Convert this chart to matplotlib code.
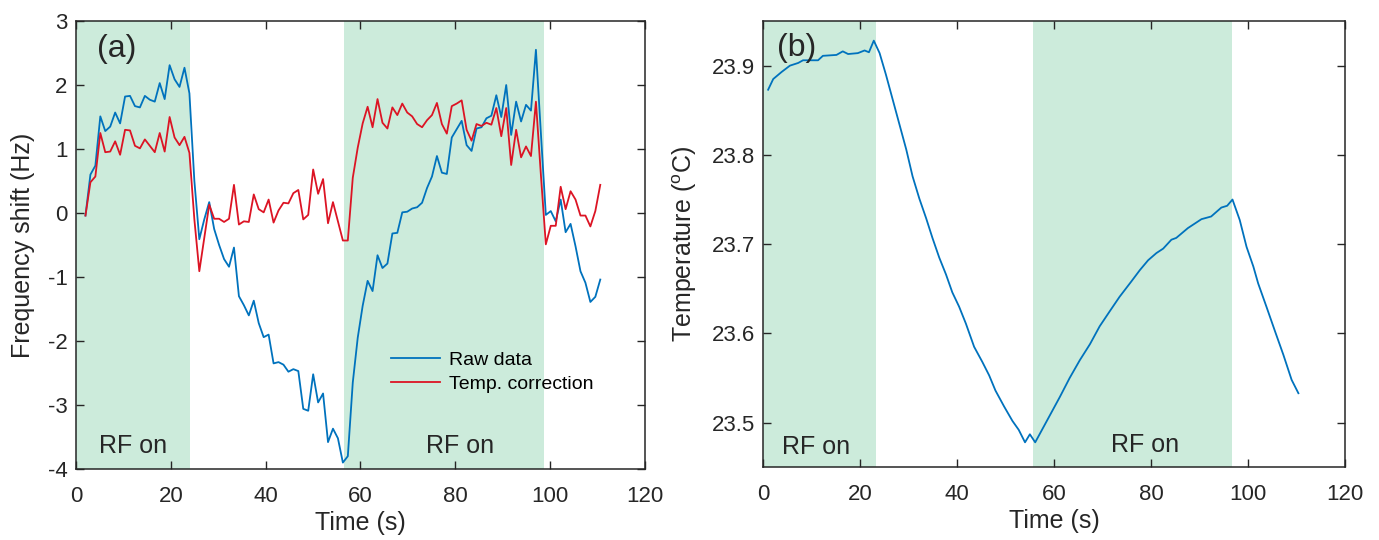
import numpy as np
import matplotlib
matplotlib.use('Agg')
import matplotlib.pyplot as plt

plt.rcParams['font.family'] = ['Liberation Sans', 'DejaVu Sans']
plt.rcParams['mathtext.fontset'] = 'custom'
plt.rcParams['mathtext.rm'] = 'Liberation Sans'
plt.rcParams['axes.unicode_minus'] = False

# (a) fréquence : échantillonnage régulier, 105 points
t_a = 2 + 1.044 * np.arange(105)

raw = [-0.04, 0.60, 0.74, 1.51, 1.28, 1.35, 1.57, 1.40, 1.82, 1.83,
       1.67, 1.65, 1.83, 1.77, 1.74, 2.03, 1.78, 2.31, 2.09, 1.97,
       2.27, 1.87, 0.50, -0.41, -0.10, 0.17, -0.25, -0.50, -0.72, -0.84,
       -0.54, -1.30, -1.44, -1.60, -1.37, -1.72, -1.94, -1.90, -2.35, -2.33,
       -2.37, -2.48, -2.44, -2.47, -3.06, -3.09, -2.52, -2.96, -2.82, -3.58,
       -3.37, -3.52, -3.90, -3.80, -2.65, -1.95, -1.45, -1.06, -1.22, -0.66,
       -0.86, -0.79, -0.32, -0.31, 0.01, 0.02, 0.07, 0.09, 0.16, 0.39,
       0.57, 0.89, 0.63, 0.61, 1.18, 1.31, 1.44, 1.06, 0.97, 1.32,
       1.34, 1.48, 1.52, 1.84, 1.50, 2.00, 1.22, 1.74, 1.43, 1.69,
       1.60, 2.55, 1.25, -0.03, 0.03, -0.13, 0.21, -0.30, -0.17, -0.52,
       -0.91, -1.09, -1.39, -1.31, -1.04]

corr = [-0.04, 0.48, 0.57, 1.25, 0.95, 0.96, 1.12, 0.91, 1.30, 1.29,
        1.05, 1.01, 1.15, 1.05, 0.95, 1.25, 0.96, 1.50, 1.18, 1.06,
        1.19, 0.94, -0.10, -0.91, -0.39, 0.13, -0.09, -0.09, -0.14, -0.09,
        0.44, -0.18, -0.13, -0.14, 0.29, 0.06, 0.01, 0.21, -0.15, 0.04,
        0.16, 0.15, 0.31, 0.36, -0.10, -0.03, 0.68, 0.30, 0.53, -0.16,
        0.17, -0.13, -0.43, -0.43, 0.55, 1.02, 1.40, 1.66, 1.34, 1.78,
        1.41, 1.32, 1.65, 1.53, 1.71, 1.57, 1.51, 1.39, 1.34, 1.45,
        1.53, 1.72, 1.39, 1.24, 1.67, 1.71, 1.76, 1.30, 1.13, 1.39,
        1.36, 1.41, 1.38, 1.64, 1.20, 1.64, 0.75, 1.30, 0.87, 1.04,
        0.89, 1.74, 0.60, -0.49, -0.20, -0.20, 0.41, 0.06, 0.34, 0.21,
        -0.04, -0.04, -0.21, 0.03, 0.44]

# (b) température
t_b = [1.0, 2.05, 3.8, 5.5, 7.2, 8.2, 9.6, 11.3, 12.3, 15.1,
       16.4, 17.5, 19.5, 20.9, 21.8, 22.8, 24.0, 25.3, 26.7, 28.1,
       29.5, 30.8, 32.2, 33.6, 34.9, 36.3, 37.7, 39.0, 40.4, 41.8,
       43.5, 45.2, 46.6, 47.9, 49.7, 51.4, 52.7, 54.0, 55.0, 56.1,
       57.6, 59.5, 61.2, 63.2, 65.3, 67.4, 69.4, 71.5, 73.5, 75.9,
       77.7, 79.4, 81.1, 82.5, 84.2, 85.2, 87.6, 90.4, 92.4, 94.5,
       95.7, 96.8, 98.3, 99.7, 101.1, 102.1, 103.8, 105.6, 107.3, 109.0, 110.4]
temp = [23.873, 23.885, 23.893, 23.900, 23.903, 23.906, 23.906, 23.906, 23.911, 23.912,
        23.916, 23.913, 23.914, 23.917, 23.915, 23.928, 23.914, 23.890, 23.862, 23.834,
        23.806, 23.776, 23.751, 23.729, 23.707, 23.685, 23.666, 23.646, 23.630, 23.611,
        23.585, 23.568, 23.553, 23.536, 23.518, 23.502, 23.492, 23.478, 23.487, 23.478,
        23.493, 23.512, 23.529, 23.550, 23.570, 23.588, 23.608, 23.625, 23.641, 23.658,
        23.671, 23.682, 23.690, 23.695, 23.705, 23.707, 23.718, 23.728, 23.731, 23.741,
        23.743, 23.750, 23.727, 23.697, 23.675, 23.656, 23.630, 23.602, 23.576, 23.548, 23.533]

# zones RF on
rf_a = [(0, 24.0), (56.6, 98.8)]
rf_b = [(0, 23.2), (55.6, 96.8)]

bleu = '#0072BD'
rouge = '#DC1424'
vert = '#CCEBDB'
gris = '#262626'

fig = plt.figure(figsize=(13.79, 5.40), dpi=100)
ax1 = fig.add_axes([0.0551, 0.1315, 0.4126, 0.8296])
ax2 = fig.add_axes([0.5535, 0.1346, 0.4218, 0.8265])

for ax, zones in ((ax1, rf_a), (ax2, rf_b)):
    for a, b in zones:
        ax.axvspan(a, b, color=vert, lw=0, zorder=0)
    ax.set_xlim(0, 120)
    ax.set_xticks(np.arange(0, 121, 20))
    ax.tick_params(direction='in', length=6, width=1, top=True, right=True,
                   labelsize=16, colors=gris, pad=6)
    ax.tick_params(axis='x', pad=12)
    for s in ax.spines.values():
        s.set_color(gris)
        s.set_linewidth(1.1)
    ax.set_xlabel('Time (s)', fontsize=18, color=gris, labelpad=3)

# panneau (a)
ax1.plot(t_a, raw, color=bleu, lw=1.3, label='Raw data')
ax1.plot(t_a, corr, color=rouge, lw=1.3, label='Temp. correction')
ax1.set_ylim(-4, 3)
ax1.set_yticks(np.arange(-4, 4, 1))
ax1.set_ylabel('Frequency shift (Hz)', fontsize=18, color=gris, labelpad=9)
ax1.text(4.4, 2.57, '(a)', fontsize=23, va='center', color=gris)
ax1.text(4.8, -3.635, 'RF on', fontsize=18, va='center', color=gris)
ax1.text(81, -3.635, 'RF on', fontsize=18, va='center', ha='center', color=gris)
ax1.legend(loc='upper left', bbox_to_anchor=(0.5536, 0.262), frameon=False,
           fontsize=14, handlelength=2.5, handletextpad=0.5, labelspacing=0.3,
           borderpad=0, borderaxespad=0)

# panneau (b)
ax2.plot(t_b, temp, color=bleu, lw=1.3)
ax2.set_ylim(23.45, 23.95)
ax2.set_yticks([23.5, 23.6, 23.7, 23.8, 23.9])
ax2.set_ylabel(r'Temperature ($\mathregular{^o}$C)', fontsize=18, color=gris, labelpad=9)
ax2.text(2.76, 23.9195, '(b)', fontsize=23, va='center', color=gris)
ax2.text(10.9, 23.473, 'RF on', fontsize=18, va='center', ha='center', color=gris)
ax2.text(78.8, 23.475, 'RF on', fontsize=18, va='center', ha='center', color=gris)

fig.savefig('out.png', dpi=100)
